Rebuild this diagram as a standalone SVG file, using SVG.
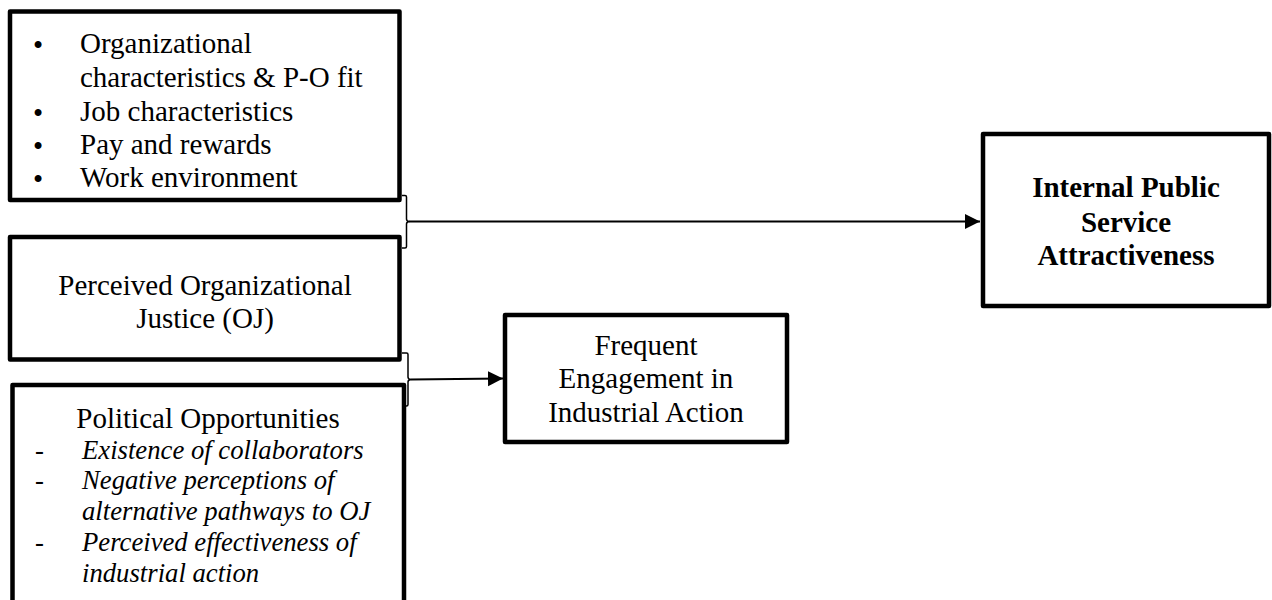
<svg xmlns="http://www.w3.org/2000/svg" width="1272" height="600" viewBox="0 0 1272 600">
  <style>
    .box { fill: #ffffff; stroke: #000000; stroke-width: 4.5; stroke-linejoin: round; }
    .t { font-family: "Liberation Serif", "Times New Roman", serif; font-size: 29px; fill: #000000; }
    .c { text-anchor: middle; }
    .b { font-weight: bold; }
    .i { font-family: "Liberation Serif", "Times New Roman", serif; font-size: 26.7px; font-style: italic; fill: #000000; }
    .dash { font-family: "Liberation Serif", "Times New Roman", serif; font-size: 26.7px; fill: #000000; }
    .bullet { font-family: "Liberation Serif", "Times New Roman", serif; font-size: 29px; fill: #000000; }
    .brace { fill: none; stroke: #000000; stroke-width: 1.5; stroke-linejoin: round; }
    .link { fill: none; stroke: #000000; stroke-width: 2; }
  </style>
  <defs>
    <marker id="arrow" markerUnits="userSpaceOnUse" markerWidth="16" markerHeight="16" viewBox="0 0 16 16" refX="15" refY="8" orient="auto">
      <path d="M0,0.5 L15,8 L0,15.5 Z" fill="#000000"/>
    </marker>
  </defs>

  <rect width="1272" height="600" fill="#ffffff"/>

  <!-- antecedents: organisational factors -->
  <g id="node-org-factors">
    <rect class="box" x="10" y="11.5" width="389.5" height="188.5"/>
    <text class="bullet" x="33" y="55">•</text>
    <text class="t" x="80" y="53">Organizational</text>
    <text class="t" x="80" y="87">characteristics &amp; P-O fit</text>
    <text class="bullet" x="33" y="123">•</text>
    <text class="t" x="80" y="121">Job characteristics</text>
    <text class="bullet" x="33" y="156">•</text>
    <text class="t" x="80" y="154">Pay and rewards</text>
    <text class="bullet" x="33" y="189">•</text>
    <text class="t" x="80" y="187">Work environment</text>
  </g>

  <!-- perceived organisational justice -->
  <g id="node-oj">
    <rect class="box" x="10" y="237" width="389.5" height="122.5"/>
    <text class="t c" x="205" y="295">Perceived Organizational</text>
    <text class="t c" x="205" y="328">Justice (OJ)</text>
  </g>

  <!-- political opportunities (box runs past the bottom edge) -->
  <g id="node-political">
    <rect class="box" x="12.5" y="385" width="391.5" height="240"/>
    <text class="t c" x="208" y="428">Political Opportunities</text>
    <text class="dash" x="35" y="459">-</text>
    <text class="i" x="82" y="459">Existence of collaborators</text>
    <text class="dash" x="35" y="489">-</text>
    <text class="i" x="82" y="489">Negative perceptions of</text>
    <text class="i" x="82" y="520">alternative pathways to OJ</text>
    <text class="dash" x="35" y="551">-</text>
    <text class="i" x="82" y="551">Perceived effectiveness of</text>
    <text class="i" x="82" y="582">industrial action</text>
  </g>

  <!-- outcome: industrial action -->
  <g id="node-industrial-action">
    <rect class="box" x="505" y="315" width="282" height="127"/>
    <text class="t c" x="646" y="355">Frequent</text>
    <text class="t c" x="646" y="388">Engagement in</text>
    <text class="t c" x="646" y="422">Industrial Action</text>
  </g>

  <!-- outcome: attractiveness -->
  <g id="node-attractiveness">
    <rect class="box" x="983" y="134" width="286" height="172"/>
    <text class="t c b" x="1126" y="197">Internal Public</text>
    <text class="t c b" x="1126" y="232">Service</text>
    <text class="t c b" x="1126" y="265">Attractiveness</text>
  </g>

  <g id="connectors">
    <!-- brace grouping the first two boxes -->
    <path class="brace" d="M402,195.5 H405 Q406.5,195.5 406.5,197 V219 Q406.5,221 409,221.5 Q406.5,222 406.5,224 V246.5 Q406.5,248 405,248 H402"/>
    <line class="link" x1="409" y1="221.5" x2="980" y2="221.5" marker-end="url(#arrow)"/>
    <!-- brace grouping OJ and political opportunities -->
    <path class="brace" d="M402,353 H406.5 Q408,353 408,354.5 V377 Q408,379 410.5,379.5 Q408,380 408,382 V404.5 Q408,406 406.5,406 H404"/>
    <line class="link" x1="410.5" y1="379.5" x2="503" y2="378.5" marker-end="url(#arrow)"/>
  </g>
</svg>
